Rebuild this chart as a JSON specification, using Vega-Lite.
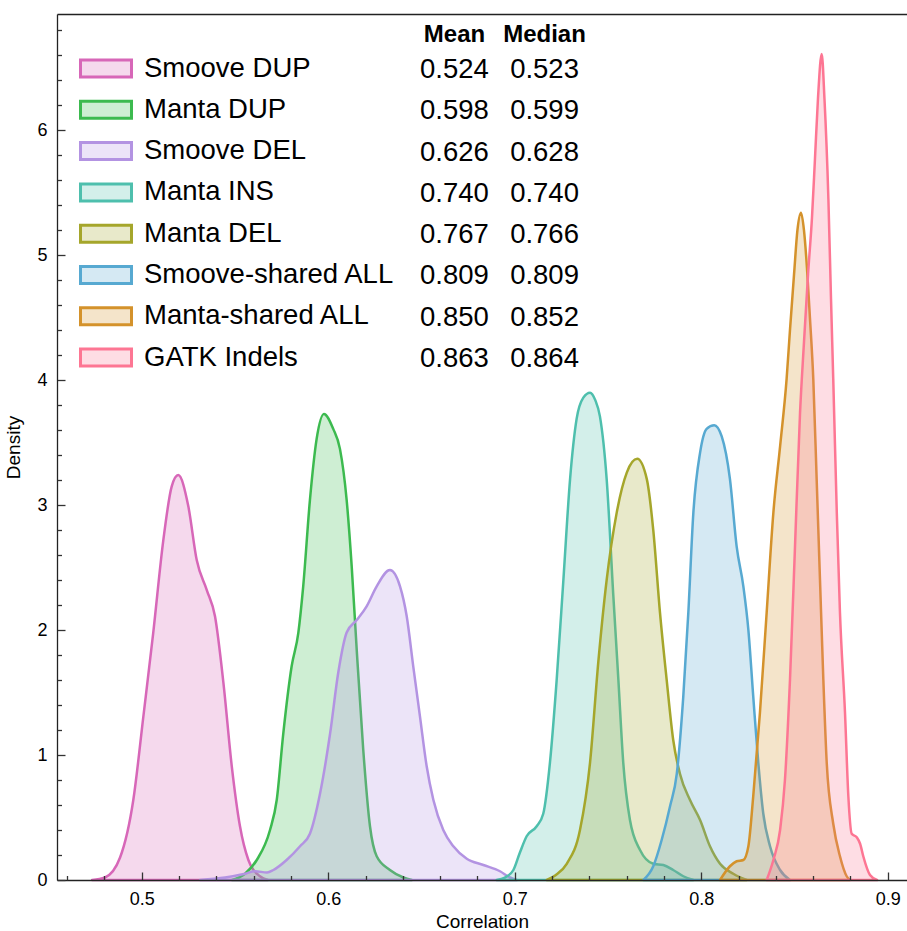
{
"$schema": "https://vega.github.io/schema/vega-lite/v6.json",
"width": 850, "height": 866,
"autosize": {"type": "none"},
"padding": {"left": 57, "top": 14, "right": 0, "bottom": 51},
"background": "white",
"config": {
  "font": "Liberation Sans",
  "view": {"stroke": null},
  "axis": {"grid": false, "tickColor": "#333", "tickWidth": 1.3, "labelColor": "#000", "labelFontSize": 18, "titleFontSize": 19, "titleFontWeight": "normal", "titleColor": "#000", "labelFlush": false}
},
"datasets": {
  "stats": [
    {"s": "Smoove DUP", "mean": 0.524, "median": 0.523},
    {"s": "Manta DUP", "mean": 0.598, "median": 0.599},
    {"s": "Smoove DEL", "mean": 0.626, "median": 0.628},
    {"s": "Manta INS", "mean": 0.740, "median": 0.740},
    {"s": "Manta DEL", "mean": 0.767, "median": 0.766},
    {"s": "Smoove-shared ALL", "mean": 0.809, "median": 0.809},
    {"s": "Manta-shared ALL", "mean": 0.850, "median": 0.852},
    {"s": "GATK Indels", "mean": 0.863, "median": 0.864}
  ],
  "density": [
    {"s":"Smoove DUP","x":0.4734,"d":0},{"s":"Smoove DUP","x":0.4803,"d":0.02},{"s":"Smoove DUP","x":0.4884,"d":0.18},{"s":"Smoove DUP","x":0.4955,"d":0.64},{"s":"Smoove DUP","x":0.5009,"d":1.31},{"s":"Smoove DUP","x":0.5062,"d":1.98},{"s":"Smoove DUP","x":0.5116,"d":2.72},{"s":"Smoove DUP","x":0.5161,"d":3.15},{"s":"Smoove DUP","x":0.5196,"d":3.24},{"s":"Smoove DUP","x":0.5250,"d":2.99},{"s":"Smoove DUP","x":0.5295,"d":2.56},{"s":"Smoove DUP","x":0.5349,"d":2.32},{"s":"Smoove DUP","x":0.5393,"d":2.11},{"s":"Smoove DUP","x":0.5438,"d":1.58},{"s":"Smoove DUP","x":0.5483,"d":0.91},{"s":"Smoove DUP","x":0.5527,"d":0.43},{"s":"Smoove DUP","x":0.5572,"d":0.16},{"s":"Smoove DUP","x":0.5634,"d":0.03},{"s":"Smoove DUP","x":0.5677,"d":0},
    {"s":"Manta DUP","x":0.5484,"d":0},{"s":"Manta DUP","x":0.5554,"d":0.05},{"s":"Manta DUP","x":0.5617,"d":0.16},{"s":"Manta DUP","x":0.5688,"d":0.40},{"s":"Manta DUP","x":0.5724,"d":0.64},{"s":"Manta DUP","x":0.5759,"d":1.17},{"s":"Manta DUP","x":0.5804,"d":1.71},{"s":"Manta DUP","x":0.5840,"d":1.98},{"s":"Manta DUP","x":0.5866,"d":2.35},{"s":"Manta DUP","x":0.5902,"d":3.04},{"s":"Manta DUP","x":0.5938,"d":3.53},{"s":"Manta DUP","x":0.5977,"d":3.73},{"s":"Manta DUP","x":0.6027,"d":3.61},{"s":"Manta DUP","x":0.6063,"d":3.45},{"s":"Manta DUP","x":0.6099,"d":3.04},{"s":"Manta DUP","x":0.6126,"d":2.51},{"s":"Manta DUP","x":0.6153,"d":1.84},{"s":"Manta DUP","x":0.6188,"d":1.04},{"s":"Manta DUP","x":0.6224,"d":0.43},{"s":"Manta DUP","x":0.6260,"d":0.19},{"s":"Manta DUP","x":0.6331,"d":0.08},{"s":"Manta DUP","x":0.6403,"d":0.02},{"s":"Manta DUP","x":0.6449,"d":0},
    {"s":"Smoove DEL","x":0.5313,"d":0},{"s":"Smoove DEL","x":0.5447,"d":0.02},{"s":"Smoove DEL","x":0.5554,"d":0.05},{"s":"Smoove DEL","x":0.5608,"d":0.07},{"s":"Smoove DEL","x":0.5672,"d":0.06},{"s":"Smoove DEL","x":0.5706,"d":0.08},{"s":"Smoove DEL","x":0.5777,"d":0.16},{"s":"Smoove DEL","x":0.5849,"d":0.27},{"s":"Smoove DEL","x":0.5902,"d":0.37},{"s":"Smoove DEL","x":0.5956,"d":0.69},{"s":"Smoove DEL","x":0.6010,"d":1.17},{"s":"Smoove DEL","x":0.6054,"d":1.66},{"s":"Smoove DEL","x":0.6099,"d":1.98},{"s":"Smoove DEL","x":0.6153,"d":2.08},{"s":"Smoove DEL","x":0.6206,"d":2.19},{"s":"Smoove DEL","x":0.6260,"d":2.35},{"s":"Smoove DEL","x":0.6331,"d":2.48},{"s":"Smoove DEL","x":0.6385,"d":2.35},{"s":"Smoove DEL","x":0.6421,"d":2.11},{"s":"Smoove DEL","x":0.6456,"d":1.71},{"s":"Smoove DEL","x":0.6492,"d":1.31},{"s":"Smoove DEL","x":0.6528,"d":0.91},{"s":"Smoove DEL","x":0.6564,"d":0.64},{"s":"Smoove DEL","x":0.6617,"d":0.40},{"s":"Smoove DEL","x":0.6671,"d":0.27},{"s":"Smoove DEL","x":0.6743,"d":0.17},{"s":"Smoove DEL","x":0.6832,"d":0.12},{"s":"Smoove DEL","x":0.6921,"d":0.07},{"s":"Smoove DEL","x":0.6975,"d":0.02},{"s":"Smoove DEL","x":0.7012,"d":0},
    {"s":"Manta INS","x":0.6903,"d":0},{"s":"Manta INS","x":0.6948,"d":0.02},{"s":"Manta INS","x":0.6993,"d":0.08},{"s":"Manta INS","x":0.7028,"d":0.22},{"s":"Manta INS","x":0.7064,"d":0.35},{"s":"Manta INS","x":0.7118,"d":0.43},{"s":"Manta INS","x":0.7153,"d":0.53},{"s":"Manta INS","x":0.7189,"d":0.94},{"s":"Manta INS","x":0.7225,"d":1.60},{"s":"Manta INS","x":0.7261,"d":2.40},{"s":"Manta INS","x":0.7297,"d":3.21},{"s":"Manta INS","x":0.7332,"d":3.69},{"s":"Manta INS","x":0.7368,"d":3.86},{"s":"Manta INS","x":0.7404,"d":3.90},{"s":"Manta INS","x":0.7432,"d":3.84},{"s":"Manta INS","x":0.7457,"d":3.71},{"s":"Manta INS","x":0.7493,"d":3.21},{"s":"Manta INS","x":0.7529,"d":2.27},{"s":"Manta INS","x":0.7556,"d":1.60},{"s":"Manta INS","x":0.7582,"d":0.94},{"s":"Manta INS","x":0.7618,"d":0.48},{"s":"Manta INS","x":0.7672,"d":0.24},{"s":"Manta INS","x":0.7743,"d":0.13},{"s":"Manta INS","x":0.7797,"d":0.12},{"s":"Manta INS","x":0.7850,"d":0.08},{"s":"Manta INS","x":0.7904,"d":0.03},{"s":"Manta INS","x":0.7958,"d":0},
    {"s":"Manta DEL","x":0.7172,"d":0},{"s":"Manta DEL","x":0.7221,"d":0.04},{"s":"Manta DEL","x":0.7279,"d":0.13},{"s":"Manta DEL","x":0.7350,"d":0.40},{"s":"Manta DEL","x":0.7404,"d":0.94},{"s":"Manta DEL","x":0.7448,"d":1.74},{"s":"Manta DEL","x":0.7493,"d":2.40},{"s":"Manta DEL","x":0.7547,"d":2.94},{"s":"Manta DEL","x":0.7601,"d":3.26},{"s":"Manta DEL","x":0.7657,"d":3.37},{"s":"Manta DEL","x":0.7708,"d":3.21},{"s":"Manta DEL","x":0.7743,"d":2.80},{"s":"Manta DEL","x":0.7779,"d":2.14},{"s":"Manta DEL","x":0.7815,"d":1.60},{"s":"Manta DEL","x":0.7850,"d":1.12},{"s":"Manta DEL","x":0.7886,"d":0.85},{"s":"Manta DEL","x":0.7940,"d":0.64},{"s":"Manta DEL","x":0.7994,"d":0.48},{"s":"Manta DEL","x":0.8047,"d":0.27},{"s":"Manta DEL","x":0.8101,"d":0.13},{"s":"Manta DEL","x":0.8172,"d":0.05},{"s":"Manta DEL","x":0.8244,"d":0},
    {"s":"Smoove-shared ALL","x":0.7690,"d":0},{"s":"Smoove-shared ALL","x":0.7743,"d":0.11},{"s":"Smoove-shared ALL","x":0.7788,"d":0.32},{"s":"Smoove-shared ALL","x":0.7833,"d":0.59},{"s":"Smoove-shared ALL","x":0.7869,"d":0.85},{"s":"Smoove-shared ALL","x":0.7904,"d":1.47},{"s":"Smoove-shared ALL","x":0.7931,"d":2.14},{"s":"Smoove-shared ALL","x":0.7958,"d":2.94},{"s":"Smoove-shared ALL","x":0.7994,"d":3.42},{"s":"Smoove-shared ALL","x":0.8029,"d":3.61},{"s":"Smoove-shared ALL","x":0.8070,"d":3.64},{"s":"Smoove-shared ALL","x":0.8110,"d":3.55},{"s":"Smoove-shared ALL","x":0.8154,"d":3.21},{"s":"Smoove-shared ALL","x":0.8190,"d":2.67},{"s":"Smoove-shared ALL","x":0.8226,"d":2.35},{"s":"Smoove-shared ALL","x":0.8253,"d":2.00},{"s":"Smoove-shared ALL","x":0.8279,"d":1.47},{"s":"Smoove-shared ALL","x":0.8306,"d":0.94},{"s":"Smoove-shared ALL","x":0.8333,"d":0.53},{"s":"Smoove-shared ALL","x":0.8369,"d":0.27},{"s":"Smoove-shared ALL","x":0.8423,"d":0.08},{"s":"Smoove-shared ALL","x":0.8476,"d":0},
    {"s":"Manta-shared ALL","x":0.8101,"d":0},{"s":"Manta-shared ALL","x":0.8154,"d":0.11},{"s":"Manta-shared ALL","x":0.8190,"d":0.15},{"s":"Manta-shared ALL","x":0.8226,"d":0.16},{"s":"Manta-shared ALL","x":0.8253,"d":0.27},{"s":"Manta-shared ALL","x":0.8279,"d":0.67},{"s":"Manta-shared ALL","x":0.8315,"d":1.34},{"s":"Manta-shared ALL","x":0.8351,"d":2.14},{"s":"Manta-shared ALL","x":0.8387,"d":2.94},{"s":"Manta-shared ALL","x":0.8423,"d":3.47},{"s":"Manta-shared ALL","x":0.8458,"d":4.01},{"s":"Manta-shared ALL","x":0.8476,"d":4.40},{"s":"Manta-shared ALL","x":0.8498,"d":4.85},{"s":"Manta-shared ALL","x":0.8516,"d":5.20},{"s":"Manta-shared ALL","x":0.8535,"d":5.34},{"s":"Manta-shared ALL","x":0.8551,"d":5.20},{"s":"Manta-shared ALL","x":0.8567,"d":4.90},{"s":"Manta-shared ALL","x":0.8583,"d":4.50},{"s":"Manta-shared ALL","x":0.8601,"d":4.01},{"s":"Manta-shared ALL","x":0.8619,"d":3.21},{"s":"Manta-shared ALL","x":0.8637,"d":2.40},{"s":"Manta-shared ALL","x":0.8655,"d":1.60},{"s":"Manta-shared ALL","x":0.8673,"d":0.94},{"s":"Manta-shared ALL","x":0.8708,"d":0.45},{"s":"Manta-shared ALL","x":0.8744,"d":0.19},{"s":"Manta-shared ALL","x":0.8780,"d":0.03},{"s":"Manta-shared ALL","x":0.8798,"d":0},
    {"s":"GATK Indels","x":0.8351,"d":0},{"s":"GATK Indels","x":0.8387,"d":0.16},{"s":"GATK Indels","x":0.8423,"d":0.40},{"s":"GATK Indels","x":0.8449,"d":0.80},{"s":"GATK Indels","x":0.8476,"d":1.60},{"s":"GATK Indels","x":0.8503,"d":2.67},{"s":"GATK Indels","x":0.8530,"d":3.74},{"s":"GATK Indels","x":0.8551,"d":4.30},{"s":"GATK Indels","x":0.8573,"d":4.85},{"s":"GATK Indels","x":0.8594,"d":5.30},{"s":"GATK Indels","x":0.8610,"d":5.77},{"s":"GATK Indels","x":0.8626,"d":6.25},{"s":"GATK Indels","x":0.8646,"d":6.61},{"s":"GATK Indels","x":0.8661,"d":6.25},{"s":"GATK Indels","x":0.8682,"d":5.45},{"s":"GATK Indels","x":0.8696,"d":4.65},{"s":"GATK Indels","x":0.8708,"d":4.01},{"s":"GATK Indels","x":0.8727,"d":2.94},{"s":"GATK Indels","x":0.8744,"d":2.14},{"s":"GATK Indels","x":0.8771,"d":1.34},{"s":"GATK Indels","x":0.8789,"d":0.67},{"s":"GATK Indels","x":0.8807,"d":0.37},{"s":"GATK Indels","x":0.8835,"d":0.34},{"s":"GATK Indels","x":0.8852,"d":0.29},{"s":"GATK Indels","x":0.8869,"d":0.19},{"s":"GATK Indels","x":0.8905,"d":0.04},{"s":"GATK Indels","x":0.8943,"d":0}
  ]
},
"resolve": {"scale": {"y": "independent"}, "axis": {"x": "independent", "y": "independent"}},
"layer": [
  {
    "data": {"name": "density"},
    "mark": {"type": "area", "interpolate": "monotone", "fillOpacity": 0.25, "strokeWidth": 2.5, "strokeJoin": "round"},
    "encoding": {
      "x": {"field": "x", "type": "quantitative", "scale": {"domain": [0.454584, 0.910348], "nice": false, "zero": false},
            "axis": {"orient": "bottom", "values": [0.5, 0.6, 0.7, 0.8, 0.9], "format": ".1f", "tickSize": -8, "labelPadding": 18, "title": "Correlation", "titlePadding": 4, "domain": true, "domainColor": "#222", "domainWidth": 1.3, "zindex": 1}},
      "y": {"field": "d", "type": "quantitative", "stack": null, "scale": {"domain": [0, 6.93], "nice": false, "zero": false},
            "axis": {"orient": "left", "values": [0, 1, 2, 3, 4, 5, 6], "format": "d", "tickSize": -8, "labelPadding": 18, "title": "Density", "titlePadding": 13, "domain": true, "domainColor": "#222", "domainWidth": 1.3, "zindex": 1}},
      "fill": {"field": "s", "type": "nominal",
               "scale": {"domain": ["Smoove DUP", "Manta DUP", "Smoove DEL", "Manta INS", "Manta DEL", "Smoove-shared ALL", "Manta-shared ALL", "GATK Indels"], "range": ["#d767b8", "#3cba4f", "#b393e2", "#4ebfad", "#a5a62b", "#57a9d1", "#d4922b", "#fd7693"]},
               "legend": {"title": null, "orient": "none", "legendX": 22, "legendY": 34, "symbolType": "M-1,-0.333H1V0.333H-1Z", "symbolSize": 2601, "symbolStrokeWidth": 3, "labelFontSize": 27.5, "labelOffset": 11, "clipHeight": 41, "rowPadding": 0.3, "padding": 0, "labelLimit": 400, "labelColor": "#000",
                          "encode": {"symbols": {"update": {"fillOpacity": {"value": 0.25}, "strokeOpacity": {"value": 1}, "opacity": {"value": 1}}}}}},
      "stroke": {"field": "s", "type": "nominal",
               "scale": {"domain": ["Smoove DUP", "Manta DUP", "Smoove DEL", "Manta INS", "Manta DEL", "Smoove-shared ALL", "Manta-shared ALL", "GATK Indels"], "range": ["#d767b8", "#3cba4f", "#b393e2", "#4ebfad", "#a5a62b", "#57a9d1", "#d4922b", "#fd7693"]},
               "legend": {"title": null, "orient": "none", "legendX": 22, "legendY": 34, "symbolType": "M-1,-0.333H1V0.333H-1Z", "symbolSize": 2601, "symbolStrokeWidth": 3, "labelFontSize": 27.5, "labelOffset": 11, "clipHeight": 41, "rowPadding": 0.3, "padding": 0, "labelLimit": 400, "labelColor": "#000",
                          "encode": {"symbols": {"update": {"fillOpacity": {"value": 0.25}, "strokeOpacity": {"value": 1}, "opacity": {"value": 1}}}}}}
    }
  },
  {
    "data": {"name": "stats"},
    "mark": {"type": "point", "opacity": 0},
    "encoding": {
      "x": {"field": "mean", "type": "quantitative", "scale": {"domain": [0.454584, 0.910348], "nice": false, "zero": false},
            "axis": {"orient": "bottom", "values": [0.46, 0.48, 0.52, 0.54, 0.56, 0.58, 0.62, 0.64, 0.66, 0.68, 0.72, 0.74, 0.76, 0.78, 0.82, 0.84, 0.86, 0.88], "labels": false, "tickSize": -4.5, "domain": false, "title": null, "zindex": 1}},
      "y": {"datum": 0, "type": "quantitative", "scale": {"domain": [0, 6.93], "nice": false, "zero": false},
            "axis": {"orient": "left", "values": [0.2, 0.4, 0.6, 0.8, 1.2, 1.4, 1.6, 1.8, 2.2, 2.4, 2.6, 2.8, 3.2, 3.4, 3.6, 3.8, 4.2, 4.4, 4.6, 4.8, 5.2, 5.4, 5.6, 5.8, 6.2, 6.4, 6.6, 6.8], "labels": false, "tickSize": -4.5, "domain": false, "title": null, "zindex": 1}}
    }
  },
  {
    "data": {"values": [{"t": "Mean"}]},
    "mark": {"type": "text", "fontSize": 24, "fontWeight": "bold", "align": "center", "baseline": "alphabetic", "color": "#000"},
    "encoding": {
      "x": {"datum": 0.6677, "type": "quantitative", "scale": {"domain": [0.454584, 0.910348], "nice": false, "zero": false},
            "axis": {"orient": "top", "labels": false, "ticks": false, "domain": true, "domainColor": "#222", "domainWidth": 1.3, "title": null, "zindex": 1}},
      "y": {"datum": 6.704, "type": "quantitative", "scale": {"domain": [0, 6.93], "nice": false, "zero": false}, "axis": null},
      "text": {"field": "t"}
    }
  },
  {
    "data": {"values": [{"t": "Median"}]},
    "mark": {"type": "text", "fontSize": 24, "fontWeight": "bold", "align": "center", "baseline": "alphabetic", "color": "#000"},
    "encoding": {
      "x": {"datum": 0.7160, "type": "quantitative", "scale": {"domain": [0.454584, 0.910348], "nice": false, "zero": false}, "axis": null},
      "y": {"datum": 6.704, "type": "quantitative", "scale": {"domain": [0, 6.93], "nice": false, "zero": false}, "axis": null},
      "text": {"field": "t"}
    }
  },
  {
    "data": {"name": "stats"},
    "mark": {"type": "text", "fontSize": 27.5, "align": "center", "baseline": "alphabetic", "color": "#000"},
    "encoding": {
      "x": {"datum": 0.6677, "type": "quantitative", "scale": {"domain": [0.454584, 0.910348], "nice": false, "zero": false}, "axis": null},
      "y": {"field": "s", "type": "nominal", "sort": null, "scale": {"type": "point", "domain": ["Smoove DUP", "Manta DUP", "Smoove DEL", "Manta INS", "Manta DEL", "Smoove-shared ALL", "Manta-shared ALL", "GATK Indels"], "range": [64, 353], "padding": 0}, "axis": null},
      "text": {"field": "mean", "type": "quantitative", "format": ".3f"}
    }
  },
  {
    "data": {"name": "stats"},
    "mark": {"type": "text", "fontSize": 27.5, "align": "center", "baseline": "alphabetic", "color": "#000"},
    "encoding": {
      "x": {"datum": 0.7160, "type": "quantitative", "scale": {"domain": [0.454584, 0.910348], "nice": false, "zero": false}, "axis": null},
      "y": {"field": "s", "type": "nominal", "sort": null, "scale": {"type": "point", "domain": ["Smoove DUP", "Manta DUP", "Smoove DEL", "Manta INS", "Manta DEL", "Smoove-shared ALL", "Manta-shared ALL", "GATK Indels"], "range": [64, 353], "padding": 0}, "axis": null},
      "text": {"field": "median", "type": "quantitative", "format": ".3f"}
    }
  }
]
}
